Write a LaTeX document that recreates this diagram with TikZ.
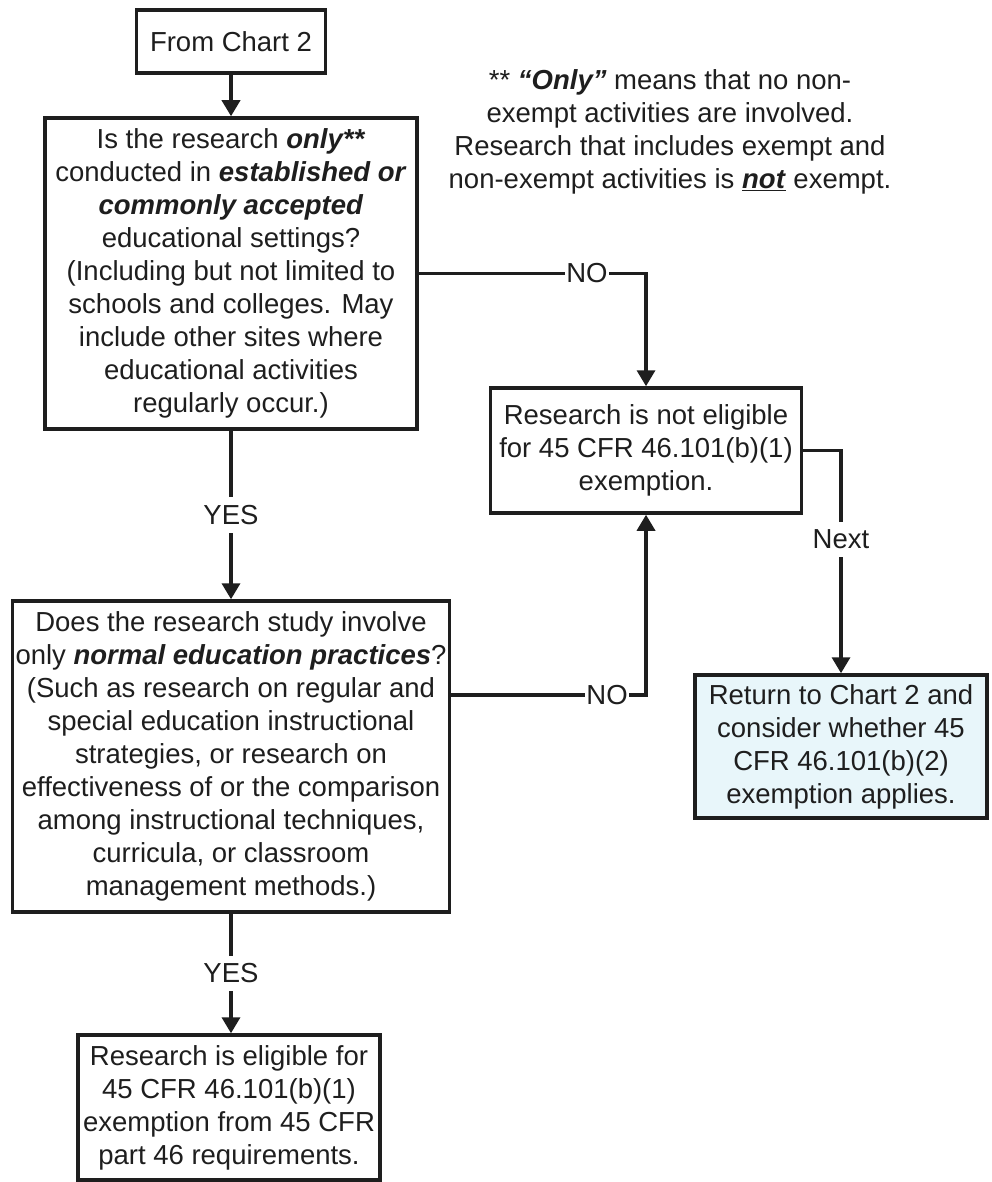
\documentclass[tikz,border=0pt]{standalone}
\usepackage{fontspec}
\setmainfont{Liberation Sans}
\usetikzlibrary{arrows.meta}
\definecolor{paleblue}{RGB}{232,246,250}
\definecolor{inkc}{RGB}{30,30,30}
\newcommand{\bi}[1]{\textbf{\textit{#1}}}
\begin{document}
\begin{tikzpicture}[x=1pt,y=-1pt,
  every node/.style={font=\fontsize{27.5}{33}\selectfont, text=inkc},
  box/.style={draw=inkc, line width=3.5pt, inner sep=0pt, align=center, fill=white},
  conn/.style={draw=inkc, line width=3.5pt, -{Triangle[width=18pt,length=16pt]}},
  hlbl/.style={fill=white, inner xsep=1.5pt, inner ysep=3pt},
  vlbl/.style={fill=white, inner xsep=3pt, inner ysep=8pt}
]
\useasboundingbox (0,0) rectangle (991,1182);
\fill[white] (0,0) rectangle (991,1182);

\node[box, minimum width=189pt, minimum height=63pt] (c2) at (231,41.5) {From Chart 2};

\node[box, minimum width=372pt, minimum height=311pt] (q1) at (231,273.5)
 {Is the research \bi{only**}\\
  conducted in \bi{established or}\\
  \bi{commonly accepted}\\
  educational settings?\\
  (Including but not limited to\\
  schools and colleges. May\\
  include other sites where\\
  educational activities\\
  regularly occur.)};

\node[align=center] (note) at (670,131.5)
 {** \bi{``Only''} means that no non-\\
  exempt activities are involved.\\
  Research that includes exempt and\\
  non-exempt activities is \underline{\bi{not}} exempt.};

\node[box, minimum width=311pt, minimum height=125pt] (ne) at (646,450.5)
 {Research is not eligible\\
  for 45 CFR 46.101(b)(1)\\
  exemption.};

\node[box, minimum width=437pt, minimum height=311pt] (q2) at (231,756.5)
 {Does the research study involve\\
  only \bi{normal education practices}?\\
  (Such as research on regular and\\
  special education instructional\\
  strategies, or research on\\
  effectiveness of or the comparison\\
  among instructional techniques,\\
  curricula, or classroom\\
  management methods.)};

\node[box, fill=paleblue, minimum width=292pt, minimum height=143pt] (ret) at (841,746.5)
 {Return to Chart 2 and\\
  consider whether 45\\
  CFR 46.101(b)(2)\\
  exemption applies.};

\node[box, minimum width=302pt, minimum height=145pt] (yes) at (229,1107.5)
 {Research is eligible for\\
  45 CFR 46.101(b)(1)\\
  exemption from 45 CFR\\
  part 46 requirements.};

\draw[conn] (c2.south) -- (c2.south |- q1.north);
\draw[conn] (q1.east) -| coordinate[pos=0.37] (no1) (ne.north);
\draw[conn] ([yshift=61.5pt]q2.east) -| coordinate[pos=0.40] (no2) (ne.south);
\draw[conn] (ne.east) -| coordinate[pos=0.70] (nx) (ret.north);
\draw[conn] (q1.south) -- coordinate (y1) (q1.south |- q2.north);
\draw[conn] (q2.south) -- coordinate (y2) (q2.south |- yes.north);

\node[hlbl] (lno1) at (no1) {NO};
\node[hlbl] (lno2) at (no2) {NO};
\node[vlbl] (lnx) at (nx) {Next};
\node[vlbl] (ly1) at (y1) {YES};
\node[vlbl] (ly2) at (y2) {YES};
\end{tikzpicture}
\end{document}
